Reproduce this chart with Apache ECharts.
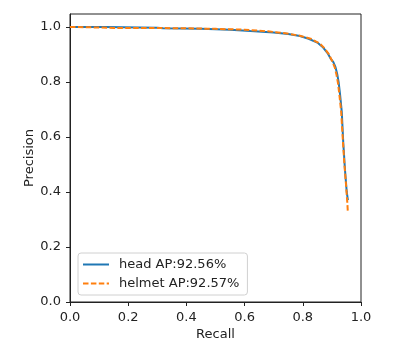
<!DOCTYPE html>
<html>
<head>
<meta charset="utf-8">
<script src="https://cdn.jsdelivr.net/npm/echarts@6/dist/echarts.min.js"></script>
<style>
  html, body { margin: 0; padding: 0; background: #fff; }
  #chart { width: 403px; height: 356px; }
</style>
</head>
<body>
<div id="chart"></div>
<script>
// PR curve points
const headRecall = [0, 0.12, 0.125, 0.3, 0.32, 0.45, 0.55, 0.62, 0.7, 0.75, 0.79, 0.82, 0.85, 0.87, 0.885, 0.895, 0.905, 0.912, 0.918, 0.923, 0.928, 0.934, 0.939, 0.945, 0.951, 0.955]
const headPrecision = [1.0, 1.0, 0.997, 0.997, 0.995, 0.993, 0.99, 0.985, 0.98, 0.974, 0.967, 0.957, 0.943, 0.925, 0.905, 0.886, 0.872, 0.855, 0.83, 0.8, 0.755, 0.69, 0.58, 0.48, 0.4, 0.37]
const helmetRecall = [0, 0.1, 0.15, 0.3, 0.4, 0.5, 0.6, 0.68, 0.74, 0.79, 0.83, 0.86, 0.875, 0.89, 0.9, 0.91, 0.916, 0.921, 0.926, 0.932, 0.937, 0.943, 0.949, 0.953, 0.955]
const helmetPrecision = [1.0, 0.998, 0.996, 0.996, 0.995, 0.993, 0.99, 0.984, 0.977, 0.968, 0.956, 0.938, 0.922, 0.9, 0.878, 0.852, 0.825, 0.795, 0.75, 0.69, 0.6, 0.5, 0.42, 0.36, 0.324]
const seriesNames = ['head AP:92.56%', 'helmet AP:92.57%']
const tickValues = [0, 0.2, 0.4, 0.6, 0.8, 1.0]

const font = 'DejaVu Sans'
const zip = (xs, ys) => xs.map((x, i) => [x, ys[i]])

const chart = echarts.init(document.getElementById('chart'))
chart.setOption({
  animation: false,
  grid: { left: 70, right: 42, top: 14, bottom: 54, show: true, borderColor: '#222', borderWidth: 1 },
  legend: {
    orient: 'vertical',
    left: 78,
    top: 253,
    padding: [5, 8, 5, 4],
    itemWidth: 26,
    itemHeight: 14,
    itemGap: 6,
    borderColor: '#d0d0d0',
    borderWidth: 1,
    borderRadius: 3,
    itemStyle: { opacity: 0 },
    textStyle: { fontFamily: font, fontSize: 13, color: '#222', padding: [0, 0, 0, 5] },
    data: seriesNames
  },
  xAxis: {
    type: 'value',
    min: 0,
    max: 1,
    name: 'Recall',
    nameLocation: 'middle',
    nameGap: 26,
    nameMoveOverlap: false,
    nameTextStyle: { fontFamily: font, fontSize: 13, color: '#222' },
    axisLine: { show: true, lineStyle: { color: '#222' } },
    axisTick: { show: true, inside: false, length: 4, customValues: tickValues, lineStyle: { color: '#222' } },
    axisLabel: { fontFamily: font, fontSize: 13, color: '#222', margin: 9, customValues: tickValues, formatter: v => v.toFixed(1) },
    splitLine: { show: false }
  },
  yAxis: {
    type: 'value',
    min: 0,
    max: 1.047,
    name: 'Precision',
    nameLocation: 'middle',
    nameGap: 34,
    nameMoveOverlap: false,
    nameTextStyle: { fontFamily: font, fontSize: 13, color: '#222' },
    axisLine: { show: true, lineStyle: { color: '#222' } },
    axisTick: { show: true, inside: false, length: 4, customValues: tickValues, lineStyle: { color: '#222' } },
    axisLabel: { fontFamily: font, fontSize: 13, color: '#222', margin: 9, customValues: tickValues, formatter: v => v.toFixed(1) },
    splitLine: { show: false }
  },
  series: [
    {
      name: seriesNames[0],
      type: 'line',
      symbol: 'none',
      data: zip(headRecall, headPrecision),
      lineStyle: { color: '#1f77b4', width: 2 },
      itemStyle: { color: '#1f77b4' }
    },
    {
      name: seriesNames[1],
      type: 'line',
      symbol: 'none',
      data: zip(helmetRecall, helmetPrecision),
      lineStyle: { color: '#ff7f0e', width: 2, type: [5.5, 2.4] },
      itemStyle: { color: '#ff7f0e' }
    }
  ]
})
</script>
</body>
</html>
